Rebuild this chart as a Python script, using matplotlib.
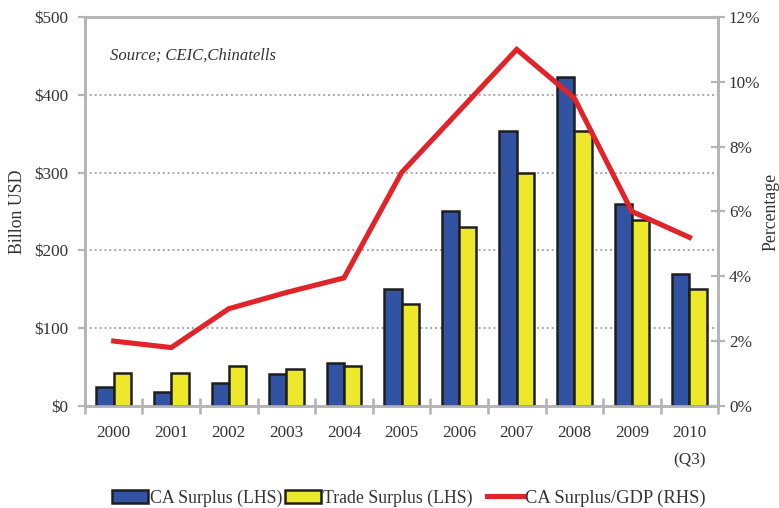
import matplotlib
matplotlib.use("Agg")
import matplotlib.pyplot as plt
import numpy as np
from matplotlib.ticker import FixedLocator, FuncFormatter
from matplotlib.patches import Patch
from matplotlib.lines import Line2D

categories = ["2000", "2001", "2002", "2003", "2004", "2005", "2006", "2007", "2008", "2009", "2010\n(Q3)"]
ca_surplus = [24, 18, 30, 41, 55, 150, 250, 353, 423, 260, 170]
trade_surplus = [42, 42, 51, 48, 51, 131, 230, 299, 353, 239, 150]
ca_gdp_pct = [2.0, 1.8, 3.0, 3.5, 3.95, 7.2, 9.1, 11.0, 9.5, 6.0, 5.2]
left_ticks = [0, 100, 200, 300, 400, 500]
right_ticks = [0, 2, 4, 6, 8, 10, 12]

plt.rcParams['font.family'] = ['Liberation Serif', 'DejaVu Serif']
txt = '#333333'
spine_c = '#b5b5b8'
blue = '#3252A2'
yellow = '#EDE82A'
red = '#E1242A'
edge = '#1e1e1e'
fs = 12.3

fig = plt.figure(figsize=(7.79, 5.08), dpi=100)
ax = fig.add_axes([0.109, 0.201, 0.813, 0.7655])
ax2 = ax.twinx()

x = np.arange(len(categories))
w = 0.3
ax.bar(x - w / 2, ca_surplus, w, color=blue, edgecolor=edge, linewidth=1.8, zorder=3)
ax.bar(x + w / 2, trade_surplus, w, color=yellow, edgecolor=edge, linewidth=1.8, zorder=3)
ax2.plot(x, ca_gdp_pct, color=red, linewidth=3.7, solid_joinstyle='miter', zorder=4)

ax.set_xlim(-0.5, len(categories) - 0.5)
ax.set_ylim(0, 500)
ax2.set_ylim(0, 12)

for a in (ax, ax2):
    for s in a.spines.values():
        s.set_color(spine_c)
        s.set_linewidth(1.9)

ax.set_yticks(left_ticks)
ax.yaxis.set_major_formatter(FuncFormatter(lambda v, p: f"${int(v)}"))
ax.tick_params(axis='y', direction='out', length=5, width=1.6, color=spine_c,
               labelsize=fs, labelcolor=txt, pad=7)
ax.grid(axis='y', linestyle=(0, (1, 1.5)), color='#a8a8a8', linewidth=1.4, zorder=0)

ax2.set_yticks(right_ticks)
ax2.yaxis.set_major_formatter(FuncFormatter(lambda v, p: f"{int(v)}%"))
ax2.tick_params(axis='y', direction='inout', length=9.5, width=1.6, color=spine_c,
                labelsize=fs, labelcolor=txt, pad=3)

ax.set_xticks(x)
ax.set_xticklabels(categories, linespacing=1.95)
ax.tick_params(axis='x', which='major', length=0, labelsize=fs, labelcolor=txt, pad=14)
ax.xaxis.set_minor_locator(FixedLocator(np.arange(-0.5, len(categories), 1.0)))
ax.tick_params(axis='x', which='minor', direction='inout', length=11, width=1.9, color=spine_c)

ax.set_ylabel("Billon USD", fontsize=12.8, color=txt)
ax.yaxis.set_label_coords(-0.093, 0.5)
ax2.set_ylabel("Percentage", fontsize=12.8, color=txt, rotation=90)
ax2.yaxis.set_label_coords(1.07, 0.5)

ax.text(0.04, 0.9, "Source; CEIC,Chinatells", transform=ax.transAxes, style='italic',
        fontsize=12, color=txt, va='center', ha='left')

handles = [Patch(facecolor=blue, edgecolor=edge, linewidth=1.8),
           Patch(facecolor=yellow, edgecolor=edge, linewidth=1.8),
           Line2D([0], [0], color=red, linewidth=3.7)]
labels = ["CA Surplus (LHS)", "Trade Surplus (LHS)", "CA Surplus/GDP (RHS)"]
xpos = [112 / 779, 285 / 779, 487 / 779]
fsl = [12.8, 12.8, 13.3]
for h, l, xp, f in zip(handles, labels, xpos, fsl):
    fig.legend([h], [l], loc='center left', bbox_to_anchor=(xp, 0.0197),
               frameon=False, fontsize=f, handlelength=2.0 * 12.8 / f, handleheight=0.8,
               handletextpad=0.12, borderpad=0, borderaxespad=0, labelcolor=txt)

fig.savefig("out.png", dpi=100)
